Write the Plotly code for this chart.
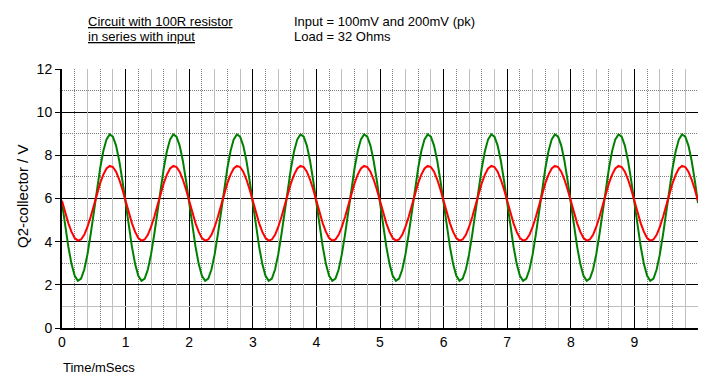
import numpy as np
import plotly.graph_objects as go

phase_ms = [0.00, 0.05, 0.10, 0.15, 0.20, 0.25, 0.30, 0.35, 0.40, 0.45,
            0.50, 0.55, 0.60, 0.65, 0.70, 0.75, 0.80, 0.85, 0.90, 0.95]
green_200mV = [5.79, 4.73, 3.76, 2.96, 2.42, 2.19, 2.29, 2.71, 3.41, 4.33,
               5.37, 6.43, 7.40, 8.20, 8.74, 8.97, 8.87, 8.45, 7.75, 6.83]
red_100mV = [5.89, 5.35, 4.85, 4.45, 4.17, 4.05, 4.10, 4.32, 4.68, 5.14,
             5.67, 6.21, 6.71, 7.11, 7.39, 7.51, 7.46, 7.24, 6.88, 6.42]
n_cycles = 10

x_ticks = [0, 1, 2, 3, 4, 5, 6, 7, 8, 9]
y_ticks = [0, 2, 4, 6, 8, 10, 12]
x_minor_dotted = [k + f for k in range(10) for f in (0.2, 0.6)]
x_minor_solid = [k + f for k in range(10) for f in (0.4, 0.8)]
y_minor_dotted = [3, 5, 7, 9, 11]
y_minor_solid = [1]

t = np.concatenate([np.array(phase_ms) + k for k in range(n_cycles)] + [np.array([n_cycles])])
g = np.array(green_200mV * n_cycles + [green_200mV[0]])
r = np.array(red_100mV * n_cycles + [red_100mV[0]])

fig = go.Figure()
fig.add_trace(go.Scatter(x=[None], y=[None], xaxis="x2", yaxis="y2",
                         showlegend=False, hoverinfo="skip"))
fig.add_trace(go.Scatter(x=t, y=g, mode="lines", line=dict(color="#008000", width=2),
                         showlegend=False))
fig.add_trace(go.Scatter(x=t, y=r, mode="lines", line=dict(color="#ff0000", width=2),
                         showlegend=False))

font = "Liberation Sans, Arial, sans-serif"
fig.update_layout(
    width=709, height=387,
    margin=dict(l=62, r=11, t=69, b=59),
    paper_bgcolor="white", plot_bgcolor="white",
    font=dict(family=font, size=14, color="black"),
    xaxis=dict(range=[0, 10], tickmode="array", tickvals=x_ticks,
               showgrid=True, gridcolor="black", gridwidth=1,
               showline=True, linecolor="black", linewidth=2,
               ticks="", zeroline=False,
               minor=dict(tickmode="array", tickvals=x_minor_dotted, showgrid=True,
                          gridcolor="#808080", griddash="1px,1px", gridwidth=1, ticks="")),
    yaxis=dict(range=[0, 12], tickmode="array", tickvals=y_ticks,
               showgrid=True, gridcolor="black", gridwidth=1,
               showline=True, linecolor="black", linewidth=2,
               ticks="outside", ticklen=5, tickcolor="black",
               zeroline=False,
               minor=dict(tickmode="array", tickvals=y_minor_dotted, showgrid=True,
                          gridcolor="#808080", griddash="1px,1px", gridwidth=1, ticks="")),
    xaxis2=dict(range=[0, 10], overlaying="x", tickmode="array", tickvals=x_minor_solid,
                showgrid=True, gridcolor="#c0c0c0", gridwidth=1, showticklabels=False,
                showline=False, zeroline=False, ticks=""),
    yaxis2=dict(range=[0, 12], overlaying="y", tickmode="array", tickvals=y_minor_solid,
                showgrid=True, gridcolor="#c0c0c0", gridwidth=1, showticklabels=False,
                showline=False, zeroline=False, ticks=""),
)

ann = dict(xref="paper", yref="paper", showarrow=False, font=dict(family=font, size=13))
fig.add_annotation(x=0.0377, y=1.185, text="<u>Circuit with 100R resistor</u>",
                   xanchor="left", yanchor="middle", **ann)
fig.add_annotation(x=0.0377, y=1.124, text="<u>in series with input</u>",
                   xanchor="left", yanchor="middle", **ann)
fig.add_annotation(x=0.3616, y=1.185, text="Input = 100mV and 200mV (pk)",
                   xanchor="left", yanchor="middle", **ann)
fig.add_annotation(x=0.3616, y=1.124, text="Load = 32 Ohms",
                   xanchor="left", yanchor="middle", **ann)
fig.add_annotation(x=-0.002, y=-0.154, text="Time/mSecs",
                   xanchor="left", yanchor="middle", **ann)
fig.add_annotation(x=-0.0613, y=0.506, text="Q2-collector / V", textangle=-90,
                   xanchor="center", yanchor="middle",
                   xref="paper", yref="paper", showarrow=False,
                   font=dict(family=font, size=15))

fig.write_html("out.html")
